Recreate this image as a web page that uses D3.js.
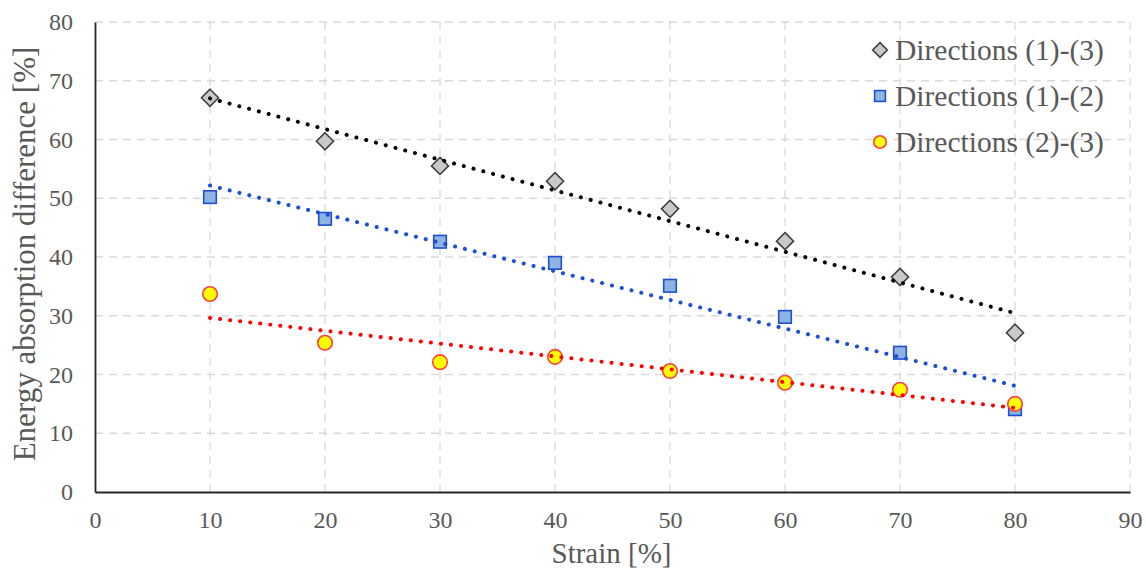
<!DOCTYPE html>
<html>
<head>
<meta charset="utf-8">
<script src="https://cdn.jsdelivr.net/npm/d3@7"></script>
<style>
  body { margin: 0; background: #fff; }
</style>
</head>
<body>
<script>
// data
var strain = [10, 20, 30, 40, 50, 60, 70, 80];
var dir13 = [67.1, 59.7, 55.5, 52.9, 48.2, 42.7, 36.6, 27.1];
var dir12 = [50.2, 46.5, 42.6, 39.0, 35.1, 29.8, 23.7, 14.1];
var dir23 = [33.7, 25.4, 22.1, 23.0, 20.6, 18.6, 17.4, 15.0];
var xTicks = [0, 10, 20, 30, 40, 50, 60, 70, 80, 90];
var yTicks = [0, 10, 20, 30, 40, 50, 60, 70, 80];

var series = [
  {name: "Directions (1)-(3)", values: dir13, shape: "diamond", fill: "#c9c9c9", stroke: "#404040", line: "#000000"},
  {name: "Directions (1)-(2)", values: dir12, shape: "square", fill: "#8db3e2", stroke: "#1f4fd0", line: "#1a4fd6"},
  {name: "Directions (2)-(3)", values: dir23, shape: "circle", fill: "#ffff00", stroke: "#ff4040", line: "#ff0000"}
];

var FONT = "Liberation Serif";
var TXT = "#595959";

var W = 1146, H = 574;
var margin = {top: 22, right: 16, bottom: 82, left: 95};
var width = W - margin.left - margin.right,
    height = H - margin.top - margin.bottom;

var svg = d3.select("body").append("svg")
  .attr("width", W).attr("height", H);
var g = svg.append("g")
  .attr("transform", "translate(" + margin.left + "," + margin.top + ")");

var x = d3.scaleLinear().domain([0, 90]).range([0, width]);
var y = d3.scaleLinear().domain([0, 80]).range([height, 0]);

// gridlines
g.append("g").selectAll("line").data(xTicks.slice(1))
  .enter().append("line")
  .attr("x1", function(d) { return x(d); }).attr("x2", function(d) { return x(d); })
  .attr("y1", 0).attr("y2", height)
  .attr("stroke", "#d9d9d9").attr("stroke-width", 1.3).attr("stroke-dasharray", "8,6");
g.append("g").selectAll("line").data(yTicks.slice(1))
  .enter().append("line")
  .attr("x1", 0).attr("x2", width)
  .attr("y1", function(d) { return y(d); }).attr("y2", function(d) { return y(d); })
  .attr("stroke", "#d9d9d9").attr("stroke-width", 1.3).attr("stroke-dasharray", "8,6");

// axes
var xAxis = g.append("g").attr("transform", "translate(0," + height + ")")
  .call(d3.axisBottom(x).tickValues(xTicks).tickSize(0).tickPadding(19));
var yAxis = g.append("g")
  .call(d3.axisLeft(y).tickValues(yTicks).tickSize(0).tickPadding(22));
[xAxis, yAxis].forEach(function(a) {
  a.attr("font-family", FONT).attr("font-size", 24);
  a.select(".domain").attr("stroke", "#262626").attr("stroke-width", 1.8);
  a.selectAll("text").attr("fill", TXT);
});
xAxis.selectAll("text").attr("dy", "0.71em");

svg.append("text")
  .attr("x", margin.left + width / 2 - 1).attr("y", 563)
  .attr("text-anchor", "middle")
  .attr("font-family", FONT).attr("font-size", 29).attr("fill", TXT)
  .text("Strain [%]");
svg.append("text")
  .attr("transform", "translate(35," + (margin.top + height / 2 - 3) + ") rotate(-90)")
  .attr("text-anchor", "middle")
  .attr("font-family", FONT).attr("font-size", 31).attr("fill", TXT)
  .text("Energy absorption difference [%]");

// least squares trendline, like the spreadsheet one
function fit(xs, ys) {
  var mx = d3.mean(xs), my = d3.mean(ys);
  var sxy = d3.sum(xs, function(v, i) { return (v - mx) * (ys[i] - my); });
  var sxx = d3.sum(xs, function(v) { return (v - mx) * (v - mx); });
  var b = sxy / sxx;
  return function(v) { return my + b * (v - mx); };
}

function marker(sel, s, size) {
  if (s.shape === "circle") {
    sel.append("circle").attr("r", size * 0.52);
  } else if (s.shape === "square") {
    sel.append("rect").attr("x", -size * 0.45).attr("y", -size * 0.45)
      .attr("width", size * 0.9).attr("height", size * 0.9);
  } else {
    sel.append("path").attr("d", d3.symbol(d3.symbolDiamond2, size * size * 0.95)());
  }
  sel.selectAll("*").attr("fill", s.fill).attr("stroke", s.stroke).attr("stroke-width", 1.6);
}

series.forEach(function(s) {
  var pts = g.append("g").selectAll("g").data(s.values)
    .enter().append("g")
    .attr("transform", function(d, i) { return "translate(" + x(strain[i]) + "," + y(d) + ")"; });
  pts.each(function() { marker(d3.select(this), s, 14); });
});

series.forEach(function(s) {
  var f = fit(strain, s.values);
  var ends = [strain[0], strain[strain.length - 1]];
  g.append("path")
    .datum(ends)
    .attr("d", d3.line().x(function(d) { return x(d); }).y(function(d) { return y(f(d)); }))
    .attr("fill", "none").attr("stroke", s.line).attr("stroke-width", 4)
    .attr("stroke-linecap", "round").attr("stroke-dasharray", "0.1,10");
});

// legend
var legend = svg.append("g").attr("transform", "translate(880,50)");
series.forEach(function(s, i) {
  var row = legend.append("g").attr("transform", "translate(0," + i * 46 + ")");
  var m = row.append("g");
  marker(m, s, 12);
  row.append("text").attr("x", 15).attr("y", 0).attr("dy", "0.35em")
    .attr("font-family", FONT).attr("font-size", 29.5).attr("fill", TXT)
    .text(s.name);
});
</script>
</body>
</html>
